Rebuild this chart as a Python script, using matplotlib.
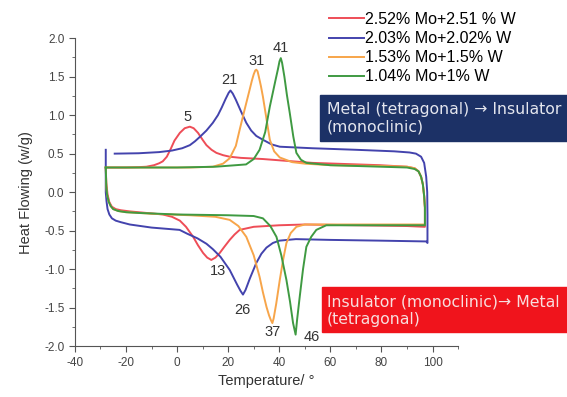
import matplotlib
matplotlib.use('Agg')
import matplotlib.pyplot as plt
from matplotlib.patches import Rectangle
from matplotlib.ticker import MultipleLocator, FormatStrFormatter

# series labels and colours
labels = ['2.52% Mo+2.51 % W', '2.03% Mo+2.02% W', '1.53% Mo+1.5% W', '1.04% Mo+1% W']
colors = ['#ee4d57', '#4343ad', '#f7a54a', '#3f9a42']

# cooling branch (upper curves), read left to right
red_up_x = [-27.9, -20, -15, -12, -9, -7, -5.6, -4, -2.5, -1, 1.1, 3, 5, 6.5, 8.2, 10, 11.5, 13.5, 15.4, 18, 20.6,
            25, 33.6, 53, 79.3, 90, 93, 94.5, 95.5, 96.2, 96.7, 97, 97]
red_up_y = [0.32, 0.32, 0.325, 0.33, 0.35, 0.375, 0.40, 0.46, 0.56, 0.67, 0.77, 0.83, 0.85, 0.83, 0.77, 0.68, 0.61, 0.55,
            0.51, 0.48, 0.46, 0.445, 0.43, 0.38, 0.35, 0.33, 0.31, 0.27, 0.20, 0.10, -0.05, -0.20, -0.45]
blue_up_x = [-24.4, -15, -7, -2, 2, 5, 7, 9, 11.5, 14, 16, 17.5, 19, 20.2, 20.9, 21.8, 23, 25, 27.1, 29, 31, 33.6, 37,
             40.2, 53, 70, 85, 91, 93.5, 95.5, 96.7, 97.5, 97.9, 98, 98]
blue_up_y = [0.50, 0.505, 0.52, 0.54, 0.57, 0.61, 0.66, 0.72, 0.80, 0.90, 1.00, 1.10, 1.21, 1.29, 1.32, 1.28, 1.20, 1.05,
             0.90, 0.80, 0.73, 0.68, 0.62, 0.59, 0.57, 0.55, 0.53, 0.515, 0.50, 0.46, 0.38, 0.20, 0.0, -0.30, -0.66]
orange_up_x = [-27.9, -10, 5, 14, 18, 20.6, 23, 24.5, 26.5, 28.4, 29.3, 30, 30.6, 31, 31.5, 32, 32.8, 33.6, 35, 36.3,
               38, 40.2, 45, 50, 60, 80, 90, 93, 94.5, 95.5, 96.2, 96.7, 97, 97]
orange_up_y = [0.32, 0.32, 0.32, 0.33, 0.37, 0.44, 0.60, 0.81, 1.08, 1.33, 1.45, 1.53, 1.58, 1.59, 1.57, 1.50, 1.38,
               1.24, 0.95, 0.68, 0.53, 0.45, 0.39, 0.37, 0.35, 0.34, 0.33, 0.31, 0.27, 0.20, 0.10, -0.05, -0.20, -0.42]
green_up_x = [-27.9, -20, 0, 15, 27, 30, 32.3, 34.5, 36.3, 38.5, 39.5, 40.1, 40.6, 41.1, 42, 43, 44.1, 45.5, 46.7,
              48.5, 50.6, 60, 80, 90, 93, 94.5, 95.5, 96.2, 96.7, 97, 97]
green_up_y = [0.32, 0.32, 0.32, 0.33, 0.36, 0.43, 0.55, 0.78, 1.11, 1.45, 1.60, 1.70, 1.74, 1.68, 1.50, 1.26, 1.03,
              0.72, 0.51, 0.42, 0.38, 0.35, 0.33, 0.32, 0.30, 0.27, 0.20, 0.10, -0.05, -0.20, -0.43]

# heating branch (lower curves), read right to left
red_lo_x = [97, 90, 70, 50, 40, 30, 24.5, 22.5, 20.6, 18.5, 16.7, 15, 13.4, 11.8, 10.2, 8.2, 6.3, 3.5, 1.1, -2, -5.6,
            -12, -18.5, -22, -24, -25.5, -26.5, -27.2, -27.7, -27.9]
red_lo_y = [-0.45, -0.44, -0.43, -0.42, -0.43, -0.45, -0.49, -0.55, -0.62, -0.71, -0.79, -0.85, -0.88, -0.85, -0.79,
            -0.69, -0.58, -0.45, -0.37, -0.32, -0.29, -0.27, -0.25, -0.235, -0.22, -0.19, -0.13, -0.03, 0.12, 0.32]
blue_lo_x = [98, 97.5, 80, 60, 46.5, 40, 37.5, 35, 33, 31, 28.5, 26.8, 25.8, 24.8, 23.5, 20.6, 17, 14, 11.5, 8, 4, 1,
             -10, -18.5, -22, -24, -25.5, -26.5, -27.2, -27.6, -27.9, -27.9]
blue_lo_y = [-0.66, -0.64, -0.63, -0.62, -0.61, -0.63, -0.66, -0.72, -0.80, -0.92, -1.12, -1.27, -1.33, -1.28, -1.20,
             -1.01, -0.84, -0.74, -0.67, -0.60, -0.54, -0.49, -0.46, -0.42, -0.39, -0.37, -0.34, -0.29, -0.22, -0.12,
             0.0, 0.55]
orange_lo_x = [97, 80, 60, 50, 46.7, 44.5, 42.8, 41.5, 40.2, 38.8, 37.8, 37.3, 36.7, 36, 35, 33.6, 32.3, 30, 27.1, 24,
               20.6, 15, 5, -10, -20, -23, -25, -26, -26.8, -27.4, -27.7, -27.9]
orange_lo_y = [-0.42, -0.42, -0.42, -0.42, -0.45, -0.53, -0.66, -0.88, -1.14, -1.45, -1.64, -1.70, -1.66, -1.60,
               -1.49, -1.30, -1.10, -0.82, -0.58, -0.44, -0.36, -0.32, -0.30, -0.28, -0.26, -0.245, -0.22, -0.18,
               -0.12, -0.03, 0.08, 0.32]
green_lo_x = [97, 80, 62, 58.4, 54.5, 52.5, 50.6, 49.3, 48, 47, 46.4, 45.4, 44.2, 42.8, 40.8, 38.9, 36.5, 33.6, 30,
              20, 0, -15, -20, -23, -25, -26, -26.8, -27.4, -27.7, -27.9]
green_lo_y = [-0.43, -0.43, -0.43, -0.43, -0.49, -0.58, -0.71, -1.00, -1.36, -1.65, -1.85, -1.70, -1.42, -1.14,
              -0.82, -0.58, -0.44, -0.34, -0.31, -0.30, -0.29, -0.27, -0.26, -0.245, -0.22, -0.18, -0.12, -0.03,
              0.08, 0.32]

# peak temperatures written on the chart
peak_text = ['5', '21', '31', '41', '13', '26', '37', '46']
peak_x = [4.2, 20.6, 31, 40.6, 16, 25.7, 37.3, 52.6]
peak_y = [0.98, 1.46, 1.70, 1.87, -1.03, -1.53, -1.81, -1.88]

plt.rcParams['font.family'] = ['Liberation Sans', 'DejaVu Sans']
plt.rcParams['axes.unicode_minus'] = False

fig = plt.figure(figsize=(5.67, 3.97), dpi=100)
ax = fig.add_axes([0.132, 0.128, 0.676, 0.776])

curves = [
    (red_up_x, red_up_y, red_lo_x, red_lo_y),
    (blue_up_x, blue_up_y, blue_lo_x, blue_lo_y),
    (orange_up_x, orange_up_y, orange_lo_x, orange_lo_y),
    (green_up_x, green_up_y, green_lo_x, green_lo_y),
]
handles = []
for i, (ux, uy, lx, ly) in enumerate(curves):
    h, = ax.plot(ux + lx, uy + ly, color=colors[i], lw=1.4, label=labels[i])
    handles.append(h)

for t, x, y in zip(peak_text, peak_x, peak_y):
    ax.text(x, y, t, ha='center', va='center', fontsize=10.5, color='#333333')

ax.set_xlim(-40, 110)
ax.set_ylim(-2, 2)
ax.xaxis.set_major_locator(MultipleLocator(20))
ax.xaxis.set_minor_locator(MultipleLocator(10))
ax.yaxis.set_major_locator(MultipleLocator(0.5))
ax.yaxis.set_minor_locator(MultipleLocator(0.25))
ax.yaxis.set_major_formatter(FormatStrFormatter('%.1f'))
ax.spines['top'].set_visible(False)
ax.spines['right'].set_visible(False)
for s in ['left', 'bottom']:
    ax.spines[s].set_color('#555555')
ax.tick_params(which='both', colors='#555555', labelcolor='#444444', labelsize=8.5)
ax.tick_params(which='major', length=4)
ax.tick_params(which='minor', length=2)
ax.set_xlabel('Temperature/ °', fontsize=10.5, color='#333333')
ax.set_ylabel('Heat Flowing (w/g)', fontsize=10.5, color='#333333', labelpad=8)

fig.legend(handles=handles, loc='upper left', bbox_to_anchor=(0.56, 0.998),
           frameon=False, fontsize=11.5, handlelength=2.2, handletextpad=0.1,
           labelspacing=0.26, borderaxespad=0.3)

# annotation boxes
fig.add_artist(Rectangle((320 / 567, 1 - 141 / 397), 1, 46 / 397,
                         transform=fig.transFigure, color='#1c3166', zorder=5))
fig.text(327 / 567, 1 - 118 / 397, 'Metal (tetragonal) \u2192 Insulator\n(monoclinic)',
         family='DejaVu Sans', fontsize=11.3, color='#e4e6ee', zorder=6,
         va='center', linespacing=1.22)
fig.add_artist(Rectangle((322 / 567, 1 - 332 / 397), 1, 45 / 397,
                         transform=fig.transFigure, color='#f0141c', zorder=5))
fig.text(327 / 567, 1 - 311 / 397, 'Insulator (monoclinic)\u2192 Metal\n(tetragonal)',
         family='DejaVu Sans', fontsize=11.3, color='#f8dede', zorder=6,
         va='center', linespacing=1.22)

fig.savefig('out.png', dpi=100)
